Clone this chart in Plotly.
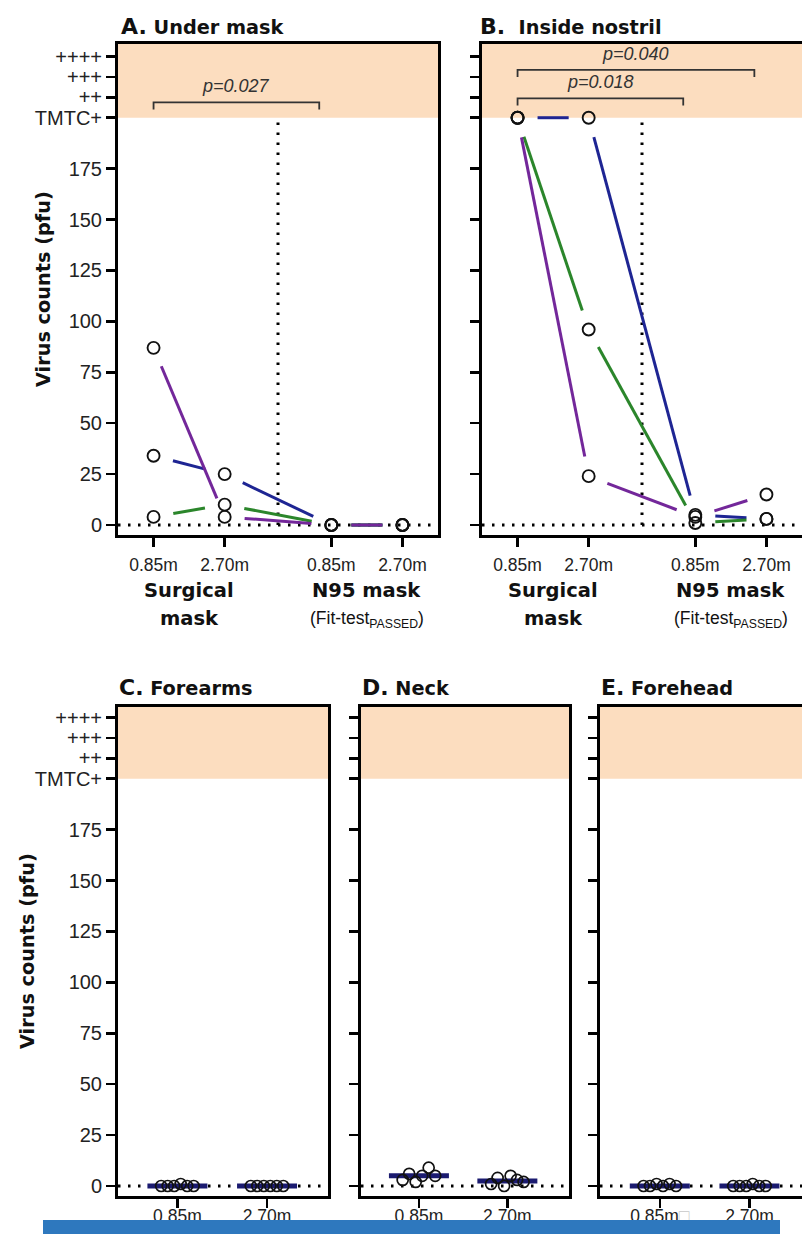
import numpy as np
import plotly.graph_objects as go

W, H = 802, 1234

# ---------------- data ----------------
mask_positions = [1, 2, 3.5, 4.5]
mask_ticktext = ["0.85m", "2.70m", "0.85m", "2.70m"]

under_mask_purple = [87, 4, 0, 0]
under_mask_blue = [34, 25, 0, 0]
under_mask_green = [4, 10, 0, 0]

nostril_purple = [200, 24, 4, 15]
nostril_blue = [200, 200, 5, 3]
nostril_green = [200, 96, 1, 3]

skin_positions = [1, 2]
skin_ticktext = ["0.85m", "2.70m"]
skin_ticktext_e = ["0.85m<span style='color:#c8c8c8'>□</span>", "2.70m"]

forearms_085 = [0, 0, 0, 1, 0, 0]
forearms_270 = [0, 0, 0, 0, 0, 0]
neck_085 = [3, 6, 2, 5, 9, 5]
neck_270 = [1, 4, 0, 5, 3, 2]
forehead_085 = [0, 0, 1, 0, 1, 0]
forehead_270 = [0, 0, 0, 1, 0, 0]

y_tickvals = [0, 25, 50, 75, 100, 125, 150, 175, 200, 210, 220, 230]
y_ticktext = ["0", "25", "50", "75", "100", "125", "150", "175", "TMTC+", "++", "+++", "++++"]
tmtc_level = 200

# brackets: (x0, x1, y, label)
brackets_a = [(1, 3.33, 207.5, "p=0.027")]
brackets_b = [(1, 4.33, 223.5, "p=0.040"), (1, 3.33, 209.5, "p=0.018")]

# ---------------- style ----------------
PURPLE = "#73279A"
BLUE = "#1E2593"
GREEN = "#2B862B"
NAVY = "#1B1B70"
PEACH = "rgb(252,221,191)"
REG = "Liberation Sans, Arial, sans-serif"
BOLD = "DejaVu Sans, Verdana, sans-serif"

# panel geometry in pixels: left, right, top, bottom
geo = {
    "A": (118, 438, 44, 535),
    "B": (482, 802, 44, 535),
    "C": (118, 328, 707, 1196),
    "D": (361, 569, 707, 1196),
    "E": (600, 802, 707, 1196),
}
xr = {
    "A": [0.5, 5.0], "B": [0.5, 5.0],
    "C": [0.337, 2.68], "D": [0.345, 2.697], "E": [0.333, 2.586],
}
yr_top = [-4.9, 236.2]
yr_bot = [-4.9, 235.2]
yr = {"A": yr_top, "B": yr_top, "C": yr_bot, "D": yr_bot, "E": yr_bot}
axn = {"A": "", "B": "2", "C": "3", "D": "4", "E": "5"}


def xd(px):
    return px / W


def yd(px):
    return 1 - px / H


def scales(p):
    l, r, t, b = geo[p]
    sx = (r - l) / (xr[p][1] - xr[p][0])
    sy = (b - t) / (yr[p][1] - yr[p][0])
    return sx, sy


def gapped(xs, ys, sx, sy, gap=20):
    X, Y = [], []
    for i in range(len(xs) - 1):
        x0, y0, x1, y1 = xs[i], ys[i], xs[i + 1], ys[i + 1]
        L = np.hypot((x1 - x0) * sx, (y1 - y0) * sy)
        if L <= 2 * gap + 2:
            continue
        f = gap / L
        X += [x0 + f * (x1 - x0), x1 - f * (x1 - x0), None]
        Y += [y0 + f * (y1 - y0), y1 - f * (y1 - y0), None]
    return X, Y


fig = go.Figure()
layout = dict(
    width=W, height=H, margin=dict(l=0, r=0, t=0, b=0),
    paper_bgcolor="white", plot_bgcolor="white", showlegend=False,
    font=dict(family=REG, color="#111"),
)
shapes = []
annotations = []

for p in "ABCDE":
    l, r, t, b = geo[p]
    n = axn[p]
    top = p in "AB"
    right_visible = p in "ACD"
    layout["xaxis" + n] = dict(
        domain=[xd(l), xd(r)], range=xr[p], anchor="y" + n,
        tickmode="array",
        tickvals=mask_positions if top else skin_positions,
        ticktext=mask_ticktext if top else (skin_ticktext_e if p == "E" else skin_ticktext),
        showline=True, linecolor="black", linewidth=3, mirror=True,
        ticks="outside", ticklen=9, tickwidth=2.5, tickcolor="black",
        showgrid=False, zeroline=False,
        tickfont=dict(family=REG, size=17.5, color="#222"),
        ticklabelstandoff=3 if top else -7,
    )
    layout["yaxis" + n] = dict(
        domain=[yd(b), yd(t)], range=yr[p], anchor="x" + n,
        tickmode="array", tickvals=y_tickvals, ticktext=y_ticktext,
        showticklabels=p in "AC",
        showline=True, linecolor="black", linewidth=3, mirror=right_visible,
        ticks="outside", ticklen=9, tickwidth=2.5, tickcolor="black",
        showgrid=False, zeroline=False,
        tickfont=dict(family=REG, size=20, color="#222"),
    )
    # peach region above TMTC+
    shapes.append(dict(type="rect", xref="x" + n + " domain", yref="y" + n,
                       x0=0, x1=1, y0=tmtc_level, y1=yr[p][1],
                       fillcolor=PEACH, line=dict(width=0), layer="below"))
    # dotted zero line
    shapes.append(dict(type="line", xref="x" + n + " domain", yref="y" + n,
                       x0=0, x1=1, y0=0, y1=0,
                       line=dict(color="black", width=3, dash="2.5px,7.5px"), layer="below"))
    if top:
        shapes.append(dict(type="line", xref="x" + n, yref="y" + n,
                           x0=2.75, x1=2.75, y0=0, y1=tmtc_level,
                           line=dict(color="black", width=3, dash="2.5px,7.5px"), layer="below"))

# ---- paired line panels ----
for p, series in (("A", [(under_mask_blue, BLUE), (under_mask_green, GREEN), (under_mask_purple, PURPLE)]),
                  ("B", [(nostril_blue, BLUE), (nostril_green, GREEN), (nostril_purple, PURPLE)])):
    n = axn[p]
    sx, sy = scales(p)
    for vals, col in series:
        X, Y = gapped(mask_positions, vals, sx, sy)
        fig.add_trace(go.Scatter(x=X, y=Y, mode="lines", line=dict(color=col, width=3),
                                 xaxis="x" + n, yaxis="y" + n, hoverinfo="skip"))
    for vals, col in series:
        fig.add_trace(go.Scatter(x=mask_positions, y=vals, mode="markers",
                                 marker=dict(symbol="circle-open", size=12, color="#111",
                                             line=dict(width=1.9)),
                                 xaxis="x" + n, yaxis="y" + n, cliponaxis=False))

# ---- dot plot panels ----
for p, groups in (("C", [forearms_085, forearms_270]),
                  ("D", [neck_085, neck_270]),
                  ("E", [forehead_085, forehead_270])):
    n = axn[p]
    sx, sy = scales(p)
    for pos, vals in zip(skin_positions, groups):
        med = float(np.median(vals))
        half = 30 / sx
        fig.add_trace(go.Scatter(x=[pos - half, pos + half], y=[med, med], mode="lines",
                                 line=dict(color=NAVY, width=5),
                                 xaxis="x" + n, yaxis="y" + n))
        k = len(vals)
        xs = [pos + (i - (k - 1) / 2) * 6.5 / sx for i in range(k)]
        fig.add_trace(go.Scatter(x=xs, y=vals, mode="markers",
                                 marker=dict(symbol="circle-open", size=11, color="#111",
                                             line=dict(width=1.7)),
                                 xaxis="x" + n, yaxis="y" + n, cliponaxis=False))

# ---- significance brackets ----
for p, brs in (("A", brackets_a), ("B", brackets_b)):
    n = axn[p]
    for x0, x1, y, lab in brs:
        shapes.append(dict(type="path", xref="x" + n, yref="y" + n,
                           path=f"M {x0},{y - 3.5} L {x0},{y} L {x1},{y} L {x1},{y - 3.5}",
                           line=dict(color="#333", width=1.8)))
        annotations.append(dict(xref="x" + n, yref="y" + n, x=(x0 + x1) / 2, y=y + 2,
                                yanchor="bottom", xanchor="center", showarrow=False,
                                text=f"<i>{lab}</i>",
                                font=dict(family=REG, size=18, color="#333")))

# ---- panel titles ----
titles = [("A", "A.", "Under mask", 119, 26), ("B", "B.", " Inside nostril", 478, 26),
          ("C", "C.", "Forearms", 117, 687), ("D", "D.", "Neck", 360, 687),
          ("E", "E.", "Forehead", 599, 687)]
for p, letter, name, xpx, ypx in titles:
    annotations.append(dict(xref="paper", yref="paper", x=xd(xpx), y=yd(ypx),
                            xanchor="left", yanchor="middle", showarrow=False,
                            text=f"<b><span style='font-size:22px'>{letter}</span> {name}</b>",
                            font=dict(family=BOLD, size=19.3, color="#111")))

# ---- y axis titles ----
for xpx, ypx in ((43, 289), (27, 951)):
    annotations.append(dict(xref="paper", yref="paper", x=xd(xpx), y=yd(ypx),
                            xanchor="center", yanchor="middle", showarrow=False, textangle=-90,
                            text="<b>Virus counts (pfu)</b>",
                            font=dict(family=BOLD, size=19.3, color="#111")))

# ---- group labels under A and B ----
for p in "AB":
    n = axn[p]
    for txt, xc, ypx, fam, sz in (("<b>Surgical</b>", 1.5, 590, BOLD, 19.5),
                                  ("<b>mask</b>", 1.5, 618, BOLD, 19.5),
                                  ("<b>N95 mask</b>", 4.0, 590, BOLD, 19.5),
                                  ("(Fit-test<sub>PASSED</sub>)", 4.0, 619, REG, 17.5)):
        annotations.append(dict(xref="x" + n, yref="paper", x=xc, y=yd(ypx),
                                xanchor="center", yanchor="middle", showarrow=False,
                                text=txt, font=dict(family=fam, size=sz, color="#111")))

# ---- blue band at the bottom ----
shapes.append(dict(type="rect", xref="paper", yref="paper", x0=xd(43), x1=xd(780),
                   y0=0, y1=14 / H, fillcolor="#2E78BE", line=dict(width=0), layer="above"))

layout["shapes"] = shapes
layout["annotations"] = annotations
fig.update_layout(**layout)
fig.write_html("out.html",
               config={"displayModeBar": False, "staticPlot": True},
               post_script="document.body.style.margin='0px';document.body.style.overflow='hidden';")
